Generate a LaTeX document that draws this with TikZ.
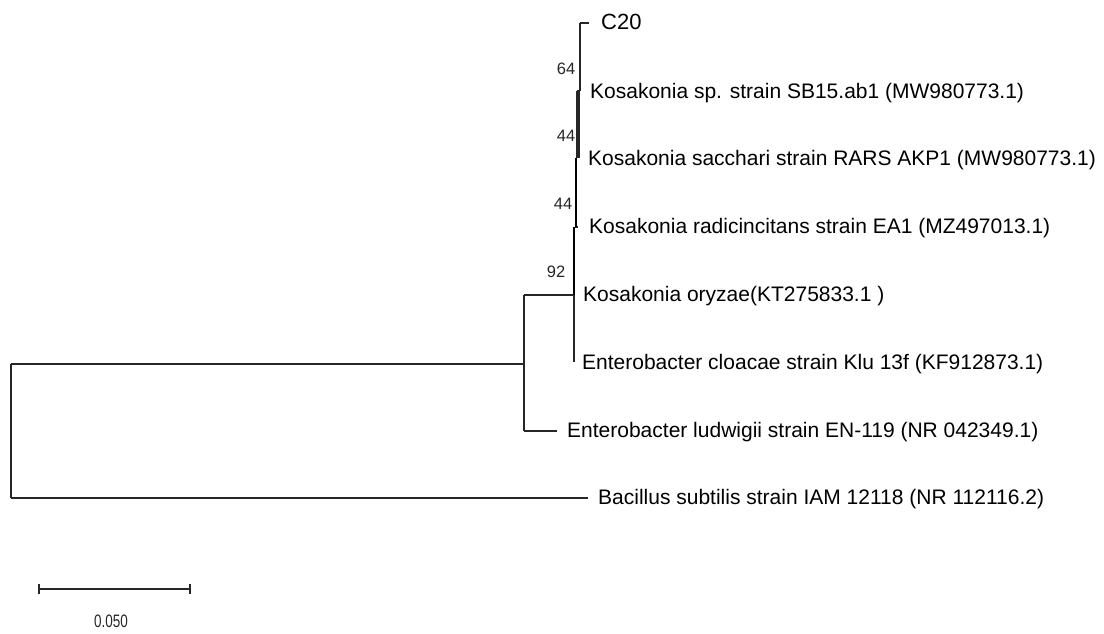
\documentclass[tikz,border=0pt]{standalone}
\usepackage{fontspec}
\setmainfont{Liberation Sans}
\begin{document}
\begin{tikzpicture}[x=1pt,y=-1pt,
  br/.style={draw=black!85,line width=1.2pt},
  thk/.style={draw=black,line width=2.2pt},
  taxon/.style={anchor=west,inner sep=0pt,font=\fontsize{21}{24}\selectfont},
  boot/.style={anchor=center,inner sep=0pt,font=\fontsize{16.5}{18}\selectfont,text=black!85}]
\useasboundingbox (0,0) rectangle (1104,633);
% taxon labels
\node[taxon,font=\fontsize{22}{24}\selectfont] (c20) at (601,22) {C20};
\node[taxon] (ksp) at (590,93) {Kosakonia sp. strain SB15.ab1 (MW980773.1)};
\node[taxon] (ksa) at (588,160) {Kosakonia sacchari strain RARS AKP1 (MW980773.1)};
\node[taxon] (kra) at (589,228) {Kosakonia radicincitans strain EA1 (MZ497013.1)};
\node[taxon] (kor) at (583,296) {Kosakonia oryzae(KT275833.1 )};
\node[taxon] (ecl) at (582,364) {Enterobacter cloacae strain Klu 13f (KF912873.1)};
\node[taxon] (elu) at (567,432) {Enterobacter ludwigii strain EN-119 (NR 042349.1)};
\node[taxon] (bsu) at (598,499) {Bacillus subtilis strain IAM 12118 (NR 112116.2)};
% internal nodes
\coordinate (root) at (11,364);
\coordinate (rootb) at (11,498);
\coordinate (n1) at (524,295);
\coordinate (n1b) at (524,431);
\coordinate (n1m) at (524,364);
\coordinate (n92) at (574,295);
\coordinate (n92t) at (574,227);
\coordinate (n92b) at (574,362);
\coordinate (n44b) at (576,227);
\coordinate (n44bt) at (576,158);
\coordinate (n44at) at (577,91);
\coordinate (n64) at (580,91);
\coordinate (n64t) at (580,23);
\coordinate (bsuend) at (588,498);
\coordinate (eluend) at (557,431);
\coordinate (kraend) at (578,227);
\coordinate (c20end) at (589,23);
% branches
\draw[br] (root) -- (rootb);
\draw[br] (root) -- (n1m);
\draw[br] (rootb) -- (bsuend);
\draw[br] (n1) -- (n1b);
\draw[br] (n1b) -- (eluend);
\draw[br] (n1) -- (n92);
\draw[thk] (n92t) -- (n92);
\draw[br] (n92) -- (n92b);
\draw[br] (n44bt) -- (n44b) -- (kraend);
\draw[thk] (n44bt) -- (n44b);
\draw[br] (n44at) -- (577,158) (579,91) -- (579,158);
\draw[br] (n44at) -- (n64);
\draw[br] (n64t) -- (n64);
\draw[br] (n64t) -- (c20end);
% bootstrap values
\node[boot] (b64) at (566,68.5) {64};
\node[boot] (b44a) at (566,136) {44};
\node[boot] (b44b) at (563,204) {44};
\node[boot] (b92) at (556,272) {92};
% scale bar
\coordinate (sa) at (39,589);
\coordinate (sb) at (190,589);
\draw[br] (sa) -- (sb);
\draw[br] (39,584) -- (39,594) (190,584) -- (190,594);
\node[boot] (scale) at (111,621) {\scalebox{0.75}[1]{\fontsize{18}{19}\selectfont 0.050}};
\end{tikzpicture}
\end{document}
